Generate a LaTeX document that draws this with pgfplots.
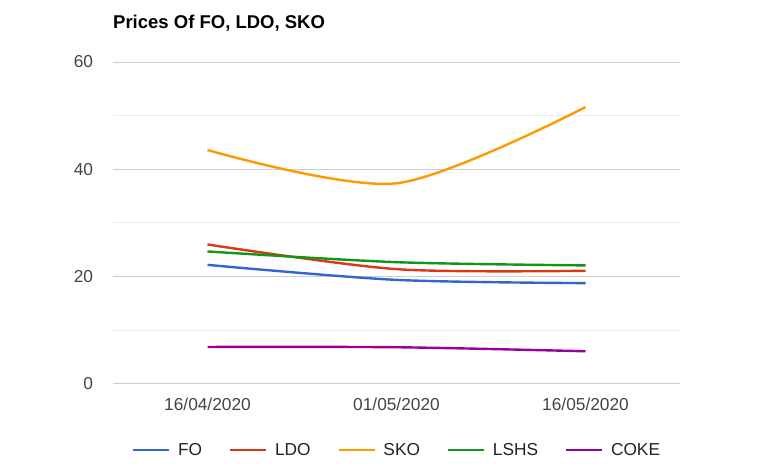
\documentclass[border=0pt]{standalone}
\usepackage{pgfplots}
\pgfplotsset{compat=1.18}
\usepackage{fontspec}
\setmainfont{Liberation Sans}
\definecolor{cFO}{HTML}{3366CC}
\definecolor{cLDO}{HTML}{DC3912}
\definecolor{cSKO}{HTML}{FF9900}
\definecolor{cLSHS}{HTML}{109618}
\definecolor{cCOKE}{HTML}{990099}
\definecolor{tick}{HTML}{444444}
\definecolor{legtxt}{HTML}{222222}
\definecolor{majgrid}{HTML}{CCCCCC}
\definecolor{mingrid}{HTML}{EBEBEB}
\definecolor{base}{HTML}{333333}
\begin{document}
\begin{tikzpicture}[x=1pt,y=1pt]
\useasboundingbox (0,0) rectangle (765,473);
\node[anchor=base west, inner sep=0, font=\fontsize{18.5}{22}\selectfont\bfseries] at (113,444) {Prices Of FO, LDO, SKO};
\begin{axis}[
  at={(113pt,89pt)}, anchor=south west,
  scale only axis, width=567pt, height=322pt,
  xmin=-0.5, xmax=2.5, ymin=0, ymax=60,
  xtick={0,1,2}, xticklabels={16/04/2020,01/05/2020,16/05/2020},
  ytick={0,20,40,60}, minor ytick={10,30,50},
  major tick length=0pt, minor tick length=0pt,
  axis line style={draw=none},
  ymajorgrids, yminorgrids,
  major grid style={draw=majgrid, line width=1pt},
  minor grid style={draw=mingrid, line width=1pt},
  extra y ticks={0}, extra y tick labels={},
  extra y tick style={grid style={draw=base, line width=1.3pt}},
  tick label style={font=\fontsize{17.3}{20}\selectfont, text=tick},
  yticklabel style={anchor=east, inner sep=0pt, xshift=-19.7pt},
  xticklabel style={anchor=north, inner sep=0pt, yshift=-14pt},
  /pgf/number format/assume math mode=true,
  clip=false,
  legend columns=5,
  legend style={at={(0.0335,-0.2050)}, anchor=west, draw=none, fill=none, inner sep=0pt,
    font=\fontsize{17.3}{20}\selectfont, text=legtxt,
    nodes={inner sep=0pt, anchor=west},
    /tikz/every odd column/.append style={column sep=7.5pt},
    /tikz/every even column/.append style={column sep=27pt}},
  legend image code/.code={\draw[#1] (0pt,0pt) -- (36pt,0pt);},
  every axis plot/.append style={line width=2.4pt, smooth, line cap=butt},
]
\addplot[cFO] coordinates {(0,22.2) (1,19.4) (2,18.8)};
\addlegendentry{FO}
\addplot[cLDO] coordinates {(0,26.0) (1,21.4) (2,21.1)};
\addlegendentry{LDO}
\addplot[cSKO] coordinates {(0,43.6) (1,37.4) (2,51.6)};
\addlegendentry{SKO}
\addplot[cLSHS] coordinates {(0,24.7) (1,22.7) (2,22.1)};
\addlegendentry{LSHS}
\addplot[cCOKE] coordinates {(0,6.9) (1,6.85) (2,6.1)};
\addlegendentry{COKE}
\end{axis}
\end{tikzpicture}
\end{document}
